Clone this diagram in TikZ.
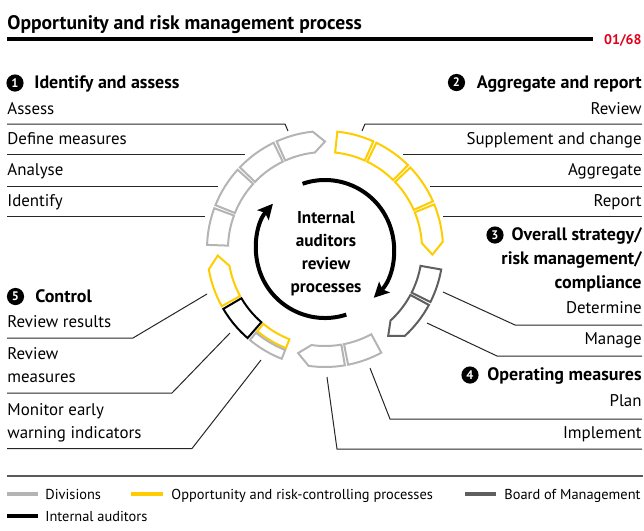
\documentclass[tikz,border=0pt]{standalone}
\usepackage{fontspec}
\setmainfont{PT Sans}
\usetikzlibrary{arrows.meta}

\definecolor{divgray}{HTML}{B4B4B4}
\definecolor{ctrlyellow}{HTML}{FFCC00}
\definecolor{boardgray}{HTML}{5F5F5F}
\definecolor{pagered}{HTML}{E2001A}

\newcommand{\titlefont}{\fontsize{9.8}{12}\selectfont\bfseries}
\newcommand{\headfont}{\fontsize{9}{11.9}\selectfont\bfseries}
\newcommand{\itemfont}{\fontsize{8.45}{11.75}\selectfont}
\newcommand{\centerfont}{\fontsize{8.6}{11.5}\selectfont\bfseries}
\newcommand{\keyfont}{\fontsize{7.2}{8.4}\selectfont}
\newcommand{\numfont}{\fontsize{6.2}{7}\selectfont\bfseries}

\newcommand{\ringin}{97}
\newcommand{\ringout}{118}
\newcommand{\ringmid}{107.5}

% text set in lines, first baseline on the node's base
\newcommand{\textlines}[2]{\begin{tabular}[t]{@{}#1@{}}#2\end{tabular}}

% ring segment between two angles and two radii
\newcommand{\ringband}[5]{%
  \draw[#1] (#2:#4) arc[start angle=#2, end angle=#3, radius=#4]
    -- (#3:#5) arc[start angle=#3, end angle=#2, radius=#5] -- cycle;}
\newcommand{\ringpart}[3]{\ringband{#1}{#2}{#3}{\ringin}{\ringout}}
% last segment of a group, pointed at its end
\newcommand{\ringtip}[4]{%
  \draw[#1] (#2:\ringin) arc[start angle=#2, end angle=#3, radius=\ringin]
    -- (#4:\ringmid) -- (#3:\ringout)
    arc[start angle=#3, end angle=#2, radius=\ringout] -- cycle;}

\begin{document}
\begin{tikzpicture}[
x=0.5pt, y=-0.5pt,
seg/.style={line width=1pt, line join=miter},
divseg/.style={seg, draw=divgray},
ctrlseg/.style={seg, draw=ctrlyellow},
boardseg/.style={seg, draw=boardgray},
auditseg/.style={seg, draw=black},
auditarc/.style={line width=2pt, -{Stealth[length=7.5pt, width=7.5pt, inset=1.5pt]}},
leader/.style={draw=black!85, line width=0.5pt},
item/.style={font=\itemfont, inner sep=0pt},
head/.style={font=\headfont, inner sep=0pt},
num/.style={circle, fill=black, text=white, inner sep=0pt, minimum size=8.6pt, font=\numfont},
key/.style={line width=2pt},
keytext/.style={font=\keyfont, inner sep=0pt, anchor=base west}
]
\useasboundingbox (0,0) rectangle (644,531);

% heading
\node[font=\titlefont, inner sep=0pt, anchor=base west] (title) at (7,29) {Opportunity and risk management process};
\draw[line width=2pt] (7,39) -- (593,39);
\node[font=\numfont\fontsize{7}{8}\selectfont, text=pagered, inner sep=0pt, anchor=base east] (page) at (642,44) {01/68};

% ring of process steps
\begin{scope}[shift={(325,249)}, yscale=-1]
  % 1 identify and assess
  \ringpart{divseg}{178}{159.8}
  \ringpart{divseg}{158.2}{137.8}
  \ringpart{divseg}{136.2}{115.8}
  \ringtip{divseg}{114.2}{96}{90}
  % 2 aggregate and report
  \ringpart{ctrlseg}{84}{65.8}
  \ringpart{ctrlseg}{64.2}{45.3}
  \ringpart{ctrlseg}{43.7}{23.8}
  \ringtip{ctrlseg}{22.2}{3.5}{-3}
  % 3 overall strategy
  \ringpart{boardseg}{-10}{-26.7}
  \ringtip{boardseg}{-28.3}{-47.5}{-54}
  % 4 operating measures
  \ringpart{divseg}{-61.5}{-78.7}
  \ringtip{divseg}{-80.3}{-98}{-104.5}
  % 5 control
  \ringband{ctrlseg}{-111.5}{-129.5}{97}{106.5}
  \ringband{divseg}{-111.5}{-129.5}{108.5}{118}
  \ringpart{auditseg}{-131}{-149.5}
  \ringtip{ctrlseg}{-151}{-170}{-176.5}
  % auditors' loop
  \draw[auditarc] (109:69) arc[start angle=109, end angle=-45, radius=69];
  \draw[auditarc] (-72:69) arc[start angle=-72, end angle=-221, radius=69];
\end{scope}
\node[font=\centerfont, inner sep=0pt, anchor=base] (auditors) at (326,223)
  {\textlines{c}{Internal\\auditors\\review\\processes}};

% 1 identify and assess
\node[num] (n1) at (15,83) {1};
\node[head, anchor=base west] (identify-assess) at (34,88) {Identify and assess};
\node[item, anchor=base west] (assess) at (7,114) {Assess};
\node[item, anchor=base west] (define) at (7,144.5) {Define measures};
\node[item, anchor=base west] (analyse) at (7,175.3) {Analyse};
\node[item, anchor=base west] (identify) at (7,206) {Identify};

\coordinate (c-assess) at (288,131);
\coordinate (k-assess) at (285,124);
\coordinate (c-define) at (245,154.5);
\coordinate (c-analyse) at (218,186);
\coordinate (c-identify) at (205,216);
\draw[leader] (c-assess) -- (k-assess) -- (k-assess -| assess.west);
\draw[leader] (c-define) -- (c-define -| define.west);
\draw[leader] (c-analyse) -- (c-analyse -| analyse.west);
\draw[leader] (c-identify) -- (c-identify -| identify.west);

% 2 aggregate and report
\node[num] (n2) at (456.5,82.5) {2};
\node[head, anchor=base east] (aggregate-report) at (642,88) {Aggregate and report};
\node[item, anchor=base east] (review) at (642,114) {Review};
\node[item, anchor=base east] (supplement) at (642,144.5) {Supplement and change};
\node[item, anchor=base east] (aggregate) at (642,175.3) {Aggregate};
\node[item, anchor=base east] (report) at (642,206) {Report};

\coordinate (c-review) at (362,131);
\coordinate (k-review) at (365,124);
\coordinate (c-supplement) at (403,154.5);
\coordinate (c-aggregate) at (430,186);
\coordinate (c-report) at (443,216);
\draw[leader] (c-review) -- (k-review) -- (k-review -| review.east);
\draw[leader] (c-supplement) -- (c-supplement -| supplement.east);
\draw[leader] (c-aggregate) -- (c-aggregate -| aggregate.east);
\draw[leader] (c-report) -- (c-report -| report.east);

% 3 overall strategy
\node[num] (n3) at (495,235) {3};
\node[head, anchor=base east] (strategy) at (642,240.5)
  {\textlines{r}{Overall strategy/\\risk management/\\compliance}};
\node[item, anchor=base east] (determine) at (642,313.3) {Determine};
\node[item, anchor=base east] (manage) at (642,344.3) {Manage};

\coordinate (c-determine) at (443,292);
\coordinate (k-determine) at (515,325);
\coordinate (c-manage) at (427,323);
\coordinate (k-manage) at (497,356);
\draw[leader] (c-determine) -- (k-determine) -- (k-determine -| determine.east);
\draw[leader] (c-manage) -- (k-manage) -- (k-manage -| manage.east);

% 4 operating measures
\node[num] (n4) at (470,375) {4};
\node[head, anchor=base east] (operating) at (642,380.7) {Operating measures};
\node[item, anchor=base east] (plan) at (642,406.7) {Plan};
\node[item, anchor=base east] (implement) at (642,438.3) {Implement};

\coordinate (c-plan) at (370,368);
\coordinate (k-plan) at (390,419);
\coordinate (c-implement) at (327,377);
\coordinate (k-implement) at (337,449);
\draw[leader] (c-plan) -- (k-plan) -- (k-plan -| plan.east);
\draw[leader] (c-implement) -- (k-implement) -- (k-implement -| implement.east);

% 5 control
\node[num] (n5) at (15.5,296.5) {5};
\node[head, anchor=base west] (control) at (35,302.3) {Control};
\node[item, anchor=base west] (results) at (7,327.3) {Review results};
\node[item, anchor=base west] (measures) at (7,359) {\textlines{l}{Review\\measures}};
\node[item, anchor=base west] (monitor) at (7,415) {\textlines{l}{Monitor early\\warning indicators}};

\coordinate (c-results) at (207,294);
\coordinate (k-results) at (133,338);
\coordinate (c-measures) at (230,333);
\coordinate (k-measures) at (172,393);
\coordinate (c-monitor) at (261,360);
\coordinate (k-monitor) at (192,448.5);
\draw[leader] (c-results) -- (k-results) -- (k-results -| results.west);
\draw[leader] (c-measures) -- (k-measures) -- (k-measures -| measures.west);
\draw[leader] (c-monitor) -- (k-monitor) -- (k-monitor -| monitor.west);

% key
\draw[draw=black!65, line width=0.75pt] (7,476) -- (643,476);
\draw[key, divgray] (7,493.5) -- (38,493.5);
\node[keytext] (key-div) at (45,499) {Divisions};
\draw[key, ctrlyellow] (131,493.5) -- (163,493.5);
\node[keytext] (key-ctrl) at (171,499) {Opportunity and risk-controlling processes};
\draw[key, boardgray] (465,493.5) -- (496,493.5);
\node[keytext] (key-board) at (504,499) {Board of Management};
\draw[key, black] (7,515.5) -- (38,515.5);
\node[keytext] (key-audit) at (45,521) {Internal auditors};

\end{tikzpicture}
\end{document}
